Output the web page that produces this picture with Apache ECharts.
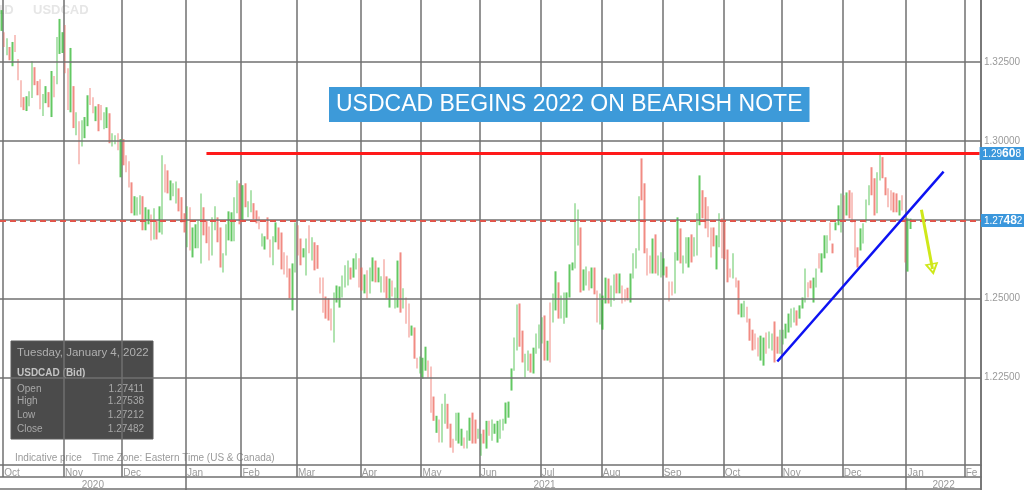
<!DOCTYPE html>
<html>
<head>
<meta charset="utf-8">
<title>USDCAD daily</title>
<script src="https://cdn.jsdelivr.net/npm/echarts/dist/echarts.min.js"></script>
<style>
  html, body { margin: 0; padding: 0; background: #fff; }
  #chart { width: 1024px; height: 490px; }
</style>
</head>
<body>
<div id="chart"></div>
<script>
// daily USDCAD bars, 30 Sep 2020 .. 4 Jan 2022
const highs = [
  1.3415,
  // Oct 2020
  1.3345,1.3326,1.3298,1.3314,1.3336,1.3260,1.3193,1.3139,1.3142,1.3158,1.3253,1.3234,1.3190,1.3196,1.3149,1.3174,1.3155,1.3222,1.3206,1.3330,1.3387,1.3345,
  // Nov
  1.3368,1.3231,1.3295,1.3174,1.3091,1.3063,1.3066,1.3076,1.3145,1.3168,1.3139,1.3110,1.3117,1.3114,1.3091,1.3107,1.3088,1.3025,1.3018,1.3025,1.3006,
  // Dec
  1.3006,1.2955,1.2936,1.2869,1.2825,1.2822,1.2828,1.2825,1.2790,1.2783,1.2767,1.2787,1.2748,1.2793,1.2955,1.2926,1.2907,1.2875,1.2866,1.2872,1.2850,1.2822,1.2771,
  // Jan 2021
  1.2793,1.2790,1.2726,1.2736,1.2748,1.2834,1.2790,1.2748,1.2729,1.2758,1.2793,1.2758,1.2726,1.2644,1.2736,1.2777,1.2774,1.2822,1.2875,1.2866,
  // Feb
  1.2860,1.2866,1.2809,1.2844,1.2803,1.2780,1.2761,1.2707,1.2698,1.2758,1.2688,1.2698,1.2742,1.2726,1.2710,1.2647,1.2637,1.2596,1.2612,1.2742,
  // Mar
  1.2733,1.2691,1.2660,1.2691,1.2733,1.2695,1.2679,1.2670,1.2567,1.2567,1.2507,1.2501,1.2469,1.2520,1.2542,1.2539,1.2574,1.2606,1.2621,1.2599,1.2628,1.2644,1.2628,
  // Apr
  1.2599,1.2577,1.2590,1.2599,1.2631,1.2621,1.2599,1.2571,1.2625,1.2571,1.2564,1.2558,1.2536,1.2621,1.2647,1.2533,1.2504,1.2485,1.2415,1.2409,1.2313,1.2317,
  // May
  1.2313,1.2348,1.2304,1.2285,1.2190,1.2129,1.2117,1.2167,1.2199,1.2167,1.2104,1.2056,1.2139,1.2139,1.2088,1.2060,1.2082,1.2123,1.2139,1.2117,1.2088,
  // Jun
  1.2072,1.2085,1.2113,1.2113,1.2117,1.2104,1.2113,1.2117,1.2120,1.2171,1.2174,1.2279,1.2377,1.2482,1.2485,1.2399,1.2326,1.2336,1.2326,1.2345,1.2390,1.2418,
  // Jul
  1.2441,1.2447,1.2367,1.2488,1.2517,1.2587,1.2552,1.2510,1.2520,1.2520,1.2609,1.2615,1.2803,1.2783,1.2726,1.2593,1.2602,1.2587,1.2599,1.2599,1.2526,1.2517,
  // Aug
  1.2510,1.2567,1.2564,1.2542,1.2577,1.2580,1.2580,1.2542,1.2530,1.2535,1.2580,1.2644,1.2660,1.2825,1.2945,1.2866,1.2660,1.2637,1.2691,1.2704,1.2637,1.2647,
  // Sep
  1.2628,1.2602,1.2555,1.2555,1.2647,1.2758,1.2723,1.2637,1.2695,1.2695,1.2704,1.2695,1.2771,1.2891,1.2844,1.2822,1.2793,1.2726,1.2726,1.2701,1.2771,1.2755,
  // Oct
  1.2742,1.2656,1.2596,1.2644,1.2567,1.2558,1.2485,1.2494,1.2475,1.2437,1.2402,1.2390,1.2377,1.2383,1.2377,1.2393,1.2396,1.2390,1.2428,1.2380,1.2402,
  // Nov
  1.2402,1.2421,1.2453,1.2469,1.2472,1.2463,1.2479,1.2504,1.2596,1.2552,1.2558,1.2567,1.2596,1.2644,1.2644,1.2701,1.2701,1.2742,1.2675,1.2742,1.2796,1.2834,
  // Dec
  1.2828,1.2837,1.2844,1.2837,1.2748,1.2663,1.2723,1.2739,1.2815,1.2860,1.2917,1.2882,1.2901,1.2961,1.2949,1.2885,1.2850,1.2844,1.2837,1.2834,1.2812,1.2828,1.2758,
  // Jan 2022
  1.2755,1.27538
];

const lows = [
  1.3349,
  // Oct 2020
  1.3298,1.3272,1.3256,1.3237,1.3282,1.3193,1.3107,1.3098,1.3095,1.3110,1.3136,1.3177,1.3145,1.3101,1.3079,1.3120,1.3107,1.3076,1.3139,1.3180,1.3276,1.3279,
  // Nov
  1.3215,1.3098,1.3091,1.3041,1.3018,1.2926,1.2983,1.3009,1.3047,1.3114,1.3088,1.3063,1.3031,1.3066,1.3037,1.3041,1.2993,1.2983,1.2990,1.2971,1.2885,
  // Dec
  1.2923,1.2901,1.2853,1.2771,1.2764,1.2764,1.2767,1.2717,1.2717,1.2736,1.2685,1.2688,1.2688,1.2710,1.2704,1.2837,1.2834,1.2812,1.2825,1.2802,1.2777,1.2742,1.2710,
  // Jan 2021
  1.2663,1.2653,1.2631,1.2660,1.2660,1.2612,1.2701,1.2676,1.2621,1.2637,1.2717,1.2679,1.2599,1.2583,1.2637,1.2685,1.2682,1.2682,1.2771,1.2736,
  // Feb
  1.2748,1.2790,1.2758,1.2774,1.2752,1.2739,1.2720,1.2666,1.2656,1.2688,1.2631,1.2606,1.2679,1.2656,1.2593,1.2577,1.2567,1.2501,1.2463,1.2583,
  // Mar
  1.2637,1.2606,1.2631,1.2574,1.2644,1.2621,1.2590,1.2595,1.2517,1.2456,1.2437,1.2431,1.2399,1.2361,1.2488,1.2472,1.2504,1.2536,1.2542,1.2561,1.2567,1.2593,1.2536,
  // Apr
  1.2526,1.2517,1.2501,1.2517,1.2555,1.2552,1.2552,1.2520,1.2520,1.2501,1.2472,1.2507,1.2469,1.2472,1.2456,1.2469,1.2421,1.2377,1.2383,1.2310,1.2279,1.2263,
  // May
  1.2247,1.2272,1.2250,1.2139,1.2113,1.2075,1.2044,1.2044,1.2104,1.2088,1.2028,1.2012,1.2050,1.2041,1.2034,1.2025,1.2025,1.2050,1.2041,1.2041,1.2056,
  // Jun
  1.2002,1.2041,1.2025,1.2066,1.2050,1.2072,1.2044,1.2056,1.2082,1.2104,1.2123,1.2209,1.2272,1.2336,1.2348,1.2298,1.2250,1.2272,1.2266,1.2263,1.2326,1.2342,
  // Jul
  1.2358,1.2304,1.2304,1.2298,1.2425,1.2463,1.2437,1.2437,1.2421,1.2440,1.2504,1.2590,1.2596,1.2669,1.2520,1.2526,1.2542,1.2526,1.2533,1.2514,1.2425,1.2418,
  // Aug
  1.2402,1.2485,1.2485,1.2475,1.2494,1.2517,1.2517,1.2485,1.2491,1.2495,1.2488,1.2564,1.2596,1.2653,1.2812,1.2644,1.2574,1.2580,1.2580,1.2580,1.2574,1.2567,
  // Sep
  1.2574,1.2567,1.2491,1.2510,1.2517,1.2621,1.2612,1.2580,1.2612,1.2599,1.2615,1.2634,1.2637,1.2733,1.2755,1.2723,1.2695,1.2631,1.2666,1.2593,1.2663,1.2628,
  // Oct
  1.2625,1.2552,1.2567,1.2564,1.2536,1.2450,1.2441,1.2441,1.2425,1.2367,1.2336,1.2339,1.2317,1.2304,1.2288,1.2326,1.2342,1.2336,1.2298,1.2326,1.2326,
  // Nov
  1.2355,1.2374,1.2393,1.2409,1.2425,1.2415,1.2437,1.2469,1.2488,1.2504,1.2533,1.2488,1.2536,1.2596,1.2583,1.2628,1.2644,1.2685,1.2644,1.2717,1.2733,1.2710,
  // Dec
  1.2748,1.2764,1.2755,1.2742,1.2631,1.2599,1.2653,1.2675,1.2742,1.2796,1.2828,1.2764,1.2771,1.2875,1.2882,1.2828,1.2790,1.2780,1.2774,1.2774,1.2764,1.2780,1.2615,
  // Jan 2022
  1.2586,1.27212
];

// G = closed up, R = closed down
const dirs = [
  'G',
  'RGRGRRRRGGGRRRGGRGRGGG',   // Oct 2020
  'RRGRGRGGGRRGRRGGRGGRG',    // Nov
  'RRRRGGGRGGRGRGGRRGGGRRR',  // Dec
  'GRGGGGRRRGGRRGGGGGGR',     // Jan 2021
  'GRGGRRRGGRRGGRRRRRGG',     // Feb
  'RRGGRGRRRRRRRGGGGGGRGGR',  // Mar
  'RGRGGRGGRRGRGGRGRRGRRG',   // Apr
  'GGRRRGRGGRRRGGGRGGRRG',    // May
  'GRGRGGGGGGGGGGRRGGRGGG',   // Jun
  'GRGRGGRGGGGGGGRGGRGRRG',   // Jul
  'GGRGGRGRRRGGGGRRRRGRGG',   // Aug
  'GRRRGGRGGGRGGGRRRRRGGR',   // Sep
  'RRRGRRGGRRRRRGGRGGRRG',    // Oct
  'GGGGGRGGGRRGGRGGGRRGGG',   // Nov
  'RGRRRRGGGGRRGGRRRRRRGRR',  // Dec
  'GG'                        // Jan 2022
].join('');

const lastOpen = 1.27411;
const lastClose = 1.27482;
const resistance = 1.29608;
const priceTicks = [1.225, 1.25, 1.275, 1.3, 1.325];

// annotations drawn on the chart: [date, price]
const resistanceFrom = '2021-01-13';
const resistanceTo = '2022-02-08';
const trendFrom = ['2021-10-28', 1.2301];
const trendTo = ['2022-01-20', 1.2903];
const arrowFrom = ['2022-01-10', 1.2782];
const arrowTo = ['2022-01-14', 1.2594];

// calendar: trading days (weekdays), holiday 1 Jan 2021 not shown
const startDay = '2020-09-30';
const dayCount = 354;
const skipDays = ['2021-01-01'];
const monthNames = ['Jan','Feb','Mar','Apr','May','Jun','Jul','Aug','Sep','Oct','Nov','Dec'];

const days = [];
let cur = new Date(startDay + 'T00:00:00Z');
while (days.length < dayCount) {
  const wd = cur.getUTCDay();
  const iso = cur.toISOString().slice(0, 10);
  if (wd !== 0 && wd !== 6 && skipDays.indexOf(iso) < 0) days.push(iso);
  cur.setUTCDate(cur.getUTCDate() + 1);
}

const monthStart = days.map((d, i) => i > 0 && d.slice(0, 7) !== days[i - 1].slice(0, 7));
const yearStart = days.map((d, i) => i > 0 && d.slice(0, 4) !== days[i - 1].slice(0, 4));
// year label sits in the middle of the year's span
const yearMid = days.map(() => false);
(function () {
  let s = 0;
  for (let i = 1; i <= days.length; i++) {
    if (i === days.length || days[i].slice(0, 4) !== days[s].slice(0, 4)) {
      yearMid[Math.floor((s + i - 1) / 2)] = true;
      s = i;
    }
  }
})();
const lastMonthIdx = monthStart.lastIndexOf(true);

const bars = highs.map((h, i) => {
  const l = lows[i];
  return dirs[i] === 'G' ? [l, h, l, h] : [h, l, l, h];
});

const FONT = '"Liberation Sans", Arial, sans-serif';
const gridColor = '#707070';

// blue price tag on the right edge, pip digits enlarged
function badge(value) {
  const s = value.toFixed(5);
  return {
    show: true,
    position: 'end',
    distance: 0,
    formatter: '{a|' + s.slice(0, 4) + '}{b|' + s.slice(4, 6) + '}{c|' + s.slice(6) + '}',
    backgroundColor: '#3b97dc',
    padding: [1, 4, 0, 3],
    rich: {
      a: { fontSize: 10, color: '#fff', fontFamily: FONT },
      b: { fontSize: 12, color: '#fff', fontWeight: 'bold', fontFamily: FONT },
      c: { fontSize: 10, color: '#fff', fontFamily: FONT }
    }
  };
}

const chart = echarts.init(document.getElementById('chart'));

const option = {
  animation: false,
  textStyle: { fontFamily: FONT },
  title: {
    text: 'USDCAD BEGINS 2022 ON BEARISH NOTE',
    left: 329,
    top: 87,
    backgroundColor: '#3d9ad9',
    padding: [6, 7, 6, 7],
    textStyle: { color: '#fff', fontSize: 23, fontWeight: 'normal', fontFamily: FONT }
  },
  grid: { left: 0, right: 43, top: 0, bottom: 25 },
  xAxis: [
    {
      type: 'category',
      data: days,
      boundaryGap: true,
      axisLine: { lineStyle: { color: gridColor, width: 1.5 } },
      axisTick: { show: true, interval: (i) => monthStart[i], length: 12, lineStyle: { color: gridColor, width: 1.5 } },
      axisLabel: {
        interval: (i) => monthStart[i],
        formatter: function (v, i) {
          const name = monthNames[parseInt(v.slice(5, 7), 10) - 1];
          // the last month name is cut by the plot edge
          return i === lastMonthIdx ? name.slice(0, 2) : name;
        },
        color: '#9a9a9a', fontSize: 10, align: 'left', margin: 3, fontFamily: FONT
      },
      splitLine: { show: true, interval: (i) => monthStart[i], lineStyle: { color: gridColor, width: 1.5 } }
    },
    {
      type: 'category',
      data: days,
      boundaryGap: true,
      position: 'bottom',
      offset: 12,
      axisLine: { lineStyle: { color: gridColor, width: 1.5 } },
      axisTick: { show: true, interval: (i) => yearStart[i], length: 13, lineStyle: { color: gridColor, width: 1.5 } },
      axisLabel: {
        interval: (i) => yearMid[i],
        formatter: (v) => v.slice(0, 4),
        color: '#9a9a9a', fontSize: 10, margin: 3, fontFamily: FONT
      },
      splitLine: { show: false }
    }
  ],
  yAxis: {
    type: 'value',
    position: 'right',
    min: 1.1973,
    max: 1.3447,
    axisLine: { show: true, lineStyle: { color: gridColor, width: 1.5 } },
    axisTick: { show: false },
    axisLabel: { show: false },
    splitLine: { show: false }
  },
  series: [
    {
      // horizontal price grid with the right-hand labels
      type: 'line',
      data: [],
      z: 1,
      silent: true,
      markLine: {
        silent: true,
        symbol: 'none',
        precision: 5,
        lineStyle: { color: gridColor, width: 1.5, type: 'solid' },
        label: {
          position: 'end',
          distance: 3,
          formatter: (p) => Number(p.value).toFixed(5),
          color: '#9a9a9a',
          fontSize: 10,
          fontFamily: FONT
        },
        data: priceTicks.map((v) => ({ yAxis: v }))
      }
    },
    {
      type: 'candlestick',
      data: bars,
      barWidth: 2,
      z: 2,
      itemStyle: {
        color: '#2fb52f',
        color0: '#ec645a',
        borderColor: '#2fb52f',
        borderColor0: '#ec645a',
        borderWidth: 0,
        opacity: 0.75
      }
    },
    {
      // drawn annotations
      type: 'line',
      data: [],
      z: 5,
      silent: true,
      markLine: {
        silent: true,
        symbol: 'none',
        precision: 5,
        data: [
          {
            yAxis: lastClose,
            lineStyle: { color: '#e0564c', width: 2, type: [6, 4] },
            label: badge(lastClose)
          },
          [
            {
              coord: [resistanceFrom, resistance],
              lineStyle: { color: '#ff1a1a', width: 3, type: 'solid' },
              label: badge(resistance)
            },
            { coord: [resistanceTo, resistance] }
          ],
          [
            {
              coord: trendFrom,
              lineStyle: { color: '#0d12f2', width: 2.5, type: 'solid' },
              label: { show: false }
            },
            { coord: trendTo }
          ],
          [
            {
              coord: arrowFrom,
              symbol: 'none',
              lineStyle: { color: '#cfe81a', width: 3, type: 'solid' },
              label: { show: false }
            },
            {
              coord: arrowTo,
              symbol: 'path://M5,0 L10,10 L0,10 Z M5,3.4 L2.2,8.7 L7.8,8.7 Z',
              symbolSize: [14, 12]
            }
          ]
        ]
      }
    }
  ],
  graphic: [
    { type: 'text', x: -3, y: 4, style: { text: '1D', fill: '#e6e6e6', font: 'bold 13px ' + FONT } },
    { type: 'text', x: 33, y: 4, style: { text: 'USDCAD', fill: '#e6e6e6', font: 'bold 13px ' + FONT } },
    {
      type: 'group',
      x: 11,
      y: 341,
      children: [
        { type: 'rect', shape: { x: 0, y: 0, width: 142, height: 98 }, style: { fill: 'rgba(40,40,40,0.84)', stroke: '#5a5a5a', lineWidth: 1 } },
        { type: 'text', x: 6, y: 12, style: { text: 'Tuesday, January 4, 2022', fill: '#b0b0b0', font: '11.5px ' + FONT, textVerticalAlign: 'middle' } },
        { type: 'text', x: 6, y: 32, style: { text: 'USDCAD (Bid)', fill: '#c4c4c4', font: 'bold 10px ' + FONT, textVerticalAlign: 'middle' } },
        { type: 'text', x: 6, y: 48, style: { text: 'Open', fill: '#a8a8a8', font: '10px ' + FONT, textVerticalAlign: 'middle' } },
        { type: 'text', x: 6, y: 60, style: { text: 'High', fill: '#a8a8a8', font: '10px ' + FONT, textVerticalAlign: 'middle' } },
        { type: 'text', x: 6, y: 74, style: { text: 'Low', fill: '#a8a8a8', font: '10px ' + FONT, textVerticalAlign: 'middle' } },
        { type: 'text', x: 6, y: 88, style: { text: 'Close', fill: '#a8a8a8', font: '10px ' + FONT, textVerticalAlign: 'middle' } },
        { type: 'text', x: 133, y: 48, style: { text: lastOpen.toFixed(5), fill: '#a8a8a8', font: '10px ' + FONT, textAlign: 'right', textVerticalAlign: 'middle' } },
        { type: 'text', x: 133, y: 60, style: { text: highs[highs.length - 1].toFixed(5), fill: '#a8a8a8', font: '10px ' + FONT, textAlign: 'right', textVerticalAlign: 'middle' } },
        { type: 'text', x: 133, y: 74, style: { text: lows[lows.length - 1].toFixed(5), fill: '#a8a8a8', font: '10px ' + FONT, textAlign: 'right', textVerticalAlign: 'middle' } },
        { type: 'text', x: 133, y: 88, style: { text: lastClose.toFixed(5), fill: '#a8a8a8', font: '10px ' + FONT, textAlign: 'right', textVerticalAlign: 'middle' } }
      ]
    },
    { type: 'text', x: 15, y: 458, style: { text: 'Indicative price', fill: '#9a9a9a', font: '10px ' + FONT, textVerticalAlign: 'middle' } },
    { type: 'text', x: 92, y: 458, style: { text: 'Time Zone: Eastern Time (US & Canada)', fill: '#9a9a9a', font: '10px ' + FONT, textVerticalAlign: 'middle' } },
    // frame continues under the axis rows
    { type: 'line', shape: { x1: 981, y1: 465, x2: 981, y2: 490 }, style: { stroke: gridColor, lineWidth: 1.5 } },
    { type: 'line', shape: { x1: 0, y1: 489, x2: 981, y2: 489 }, style: { stroke: gridColor, lineWidth: 1.5 } }
  ]
};

chart.setOption(option);
</script>
</body>
</html>
